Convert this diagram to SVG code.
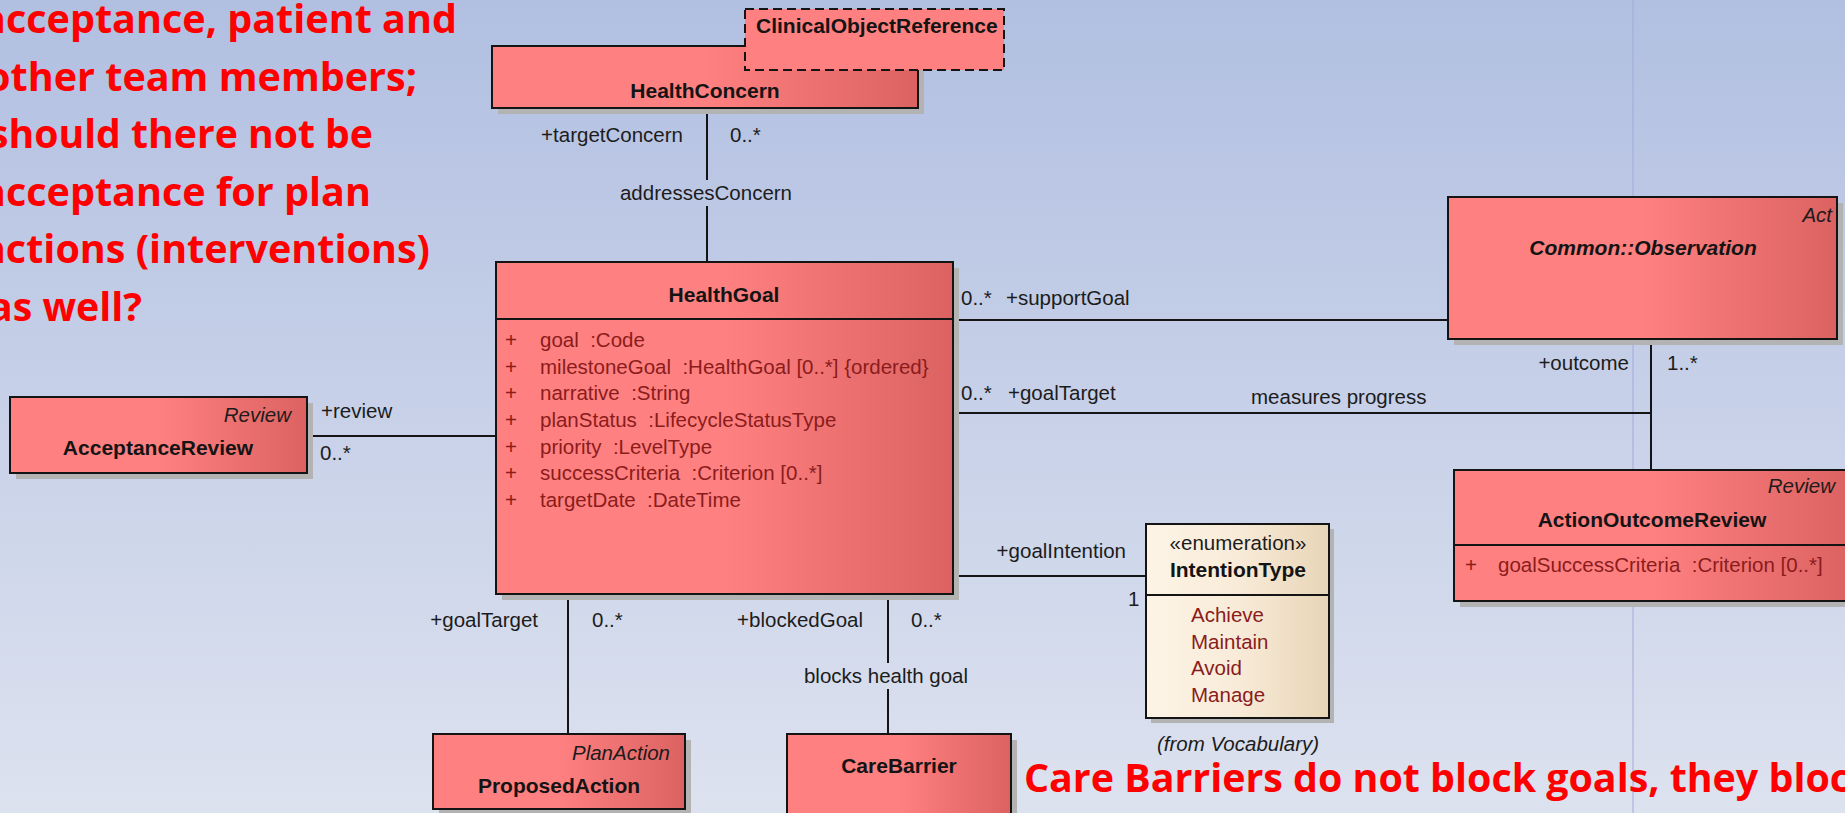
<svg xmlns="http://www.w3.org/2000/svg" width="1845" height="813" viewBox="0 0 1845 813">
  <defs>
    <linearGradient id="bg" x1="0" y1="0" x2="0" y2="1">
      <stop offset="0" stop-color="#b1bfe1"/>
      <stop offset="1" stop-color="#dde2ef"/>
    </linearGradient>
    <linearGradient id="cls" x1="0" y1="0" x2="1" y2="0">
      <stop offset="0" stop-color="#ff8080"/>
      <stop offset="0.5" stop-color="#ff8080"/>
      <stop offset="1" stop-color="#dc6262"/>
    </linearGradient>
    <linearGradient id="enum" x1="0" y1="0" x2="1" y2="0">
      <stop offset="0" stop-color="#fdf4e6"/>
      <stop offset="0.5" stop-color="#f8ebd8"/>
      <stop offset="1" stop-color="#e8d5b7"/>
    </linearGradient>
  </defs>
  <style>
    .box{fill:url(#cls);stroke:#141414;stroke-width:2}
    .ebox{fill:url(#enum);stroke:#141414;stroke-width:2}
    .ref{fill:#ff8080;stroke:#141414;stroke-width:2;stroke-dasharray:9 5}
    .shadow{fill:#b3b3b3}
    .sep{stroke:#141414;stroke-width:2}
    .edge{stroke:#141414;stroke-width:2;fill:none}
    .guide{stroke:#a3a9d8;stroke-width:1}
    text{font-family:"Liberation Sans",Arial,sans-serif}
    .lbl{font-size:20.5px;fill:#1c1c1c;white-space:pre}
    .end{text-anchor:end}
    .mid{text-anchor:middle}
    .title{font-size:21px;font-weight:bold;fill:#141414;text-anchor:middle}
    .stereo{font-size:20.5px;font-style:italic;fill:#1c1c1c;text-anchor:end}
    .attr{font-size:20.5px;fill:#8a1c1c;white-space:pre}
    .note{font-family:"Open Sans","Liberation Sans",sans-serif;font-weight:700;font-size:40px;fill:#ff0000}
  </style>

  <!-- canvas -->
  <rect x="0" y="0" width="1845" height="813" fill="url(#bg)"/>
  <line class="guide" x1="1633" y1="0" x2="1633" y2="813"/>

  <!-- associations -->
  <g id="connectors">
    <path class="edge" d="M707,108 V180 M707,206 V262"/>
    <path class="edge" d="M307,436 H496"/>
    <path class="edge" d="M953,320 H1448"/>
    <path class="edge" d="M953,413 H1651 M1651,339 V470"/>
    <path class="edge" d="M953,576 H1146"/>
    <path class="edge" d="M568,594 V734"/>
    <path class="edge" d="M888,594 V663 M888,689 V734"/>

    <text class="lbl end" x="683" y="142">+targetConcern</text>
    <text class="lbl" x="730" y="142">0..*</text>
    <text class="lbl mid" x="706" y="200">addressesConcern</text>

    <text class="lbl" x="321" y="418">+review</text>
    <text class="lbl" x="320" y="460">0..*</text>

    <text class="lbl" x="961" y="305">0..*</text>
    <text class="lbl" x="1006" y="305">+supportGoal</text>
    <text class="lbl" x="961" y="400">0..*</text>
    <text class="lbl" x="1008" y="400">+goalTarget</text>
    <text class="lbl" x="1251" y="404">measures progress</text>
    <text class="lbl end" x="1629" y="370">+outcome</text>
    <text class="lbl" x="1667" y="370">1..*</text>

    <text class="lbl end" x="1126" y="558">+goalIntention</text>
    <text class="lbl" x="1128" y="606">1</text>

    <text class="lbl end" x="538" y="627">+goalTarget</text>
    <text class="lbl" x="592" y="627">0..*</text>
    <text class="lbl end" x="863" y="627">+blockedGoal</text>
    <text class="lbl" x="911" y="627">0..*</text>
    <text class="lbl mid" x="886" y="683">blocks health goal</text>
  </g>

  <g id="HealthConcern">
    <rect class="shadow" x="498" y="52" width="426" height="62"/>
    <rect class="box" x="492" y="46" width="426" height="62"/>
    <text class="title" x="705" y="98">HealthConcern</text>
  </g>

  <g id="ClinicalObjectReference">
    <rect class="ref" x="745" y="9" width="259" height="61"/>
    <text x="756" y="33" style="font-size:21px;font-weight:bold;fill:#141414">ClinicalObjectReference</text>
  </g>

  <g id="HealthGoal">
    <rect class="shadow" x="502" y="268" width="457" height="332"/>
    <rect class="box" x="496" y="262" width="457" height="332"/>
    <line class="sep" x1="496" y1="319" x2="953" y2="319"/>
    <text class="title" x="724" y="302">HealthGoal</text>
    <text class="attr" x="505" y="347">+</text>
    <text class="attr" x="540" y="347">goal  :Code</text>
    <text class="attr" x="505" y="374">+</text>
    <text class="attr" x="540" y="374">milestoneGoal  :HealthGoal [0..*] {ordered}</text>
    <text class="attr" x="505" y="400">+</text>
    <text class="attr" x="540" y="400">narrative  :String</text>
    <text class="attr" x="505" y="427">+</text>
    <text class="attr" x="540" y="427">planStatus  :LifecycleStatusType</text>
    <text class="attr" x="505" y="454">+</text>
    <text class="attr" x="540" y="454">priority  :LevelType</text>
    <text class="attr" x="505" y="480">+</text>
    <text class="attr" x="540" y="480">successCriteria  :Criterion [0..*]</text>
    <text class="attr" x="505" y="507">+</text>
    <text class="attr" x="540" y="507">targetDate  :DateTime</text>
  </g>

  <g id="AcceptanceReview">
    <rect class="shadow" x="16" y="403" width="297" height="76"/>
    <rect class="box" x="10" y="397" width="297" height="76"/>
    <text class="stereo" x="291" y="422">Review</text>
    <text class="title" x="158" y="455">AcceptanceReview</text>
  </g>

  <g id="Observation">
    <rect class="shadow" x="1454" y="203" width="389" height="142"/>
    <rect class="box" x="1448" y="197" width="389" height="142"/>
    <text class="stereo" x="1832" y="222">Act</text>
    <text class="title" x="1643" y="255" style="font-style:italic">Common::Observation</text>
  </g>

  <g id="ActionOutcomeReview">
    <rect class="shadow" x="1460" y="476" width="396" height="131"/>
    <rect class="box" x="1454" y="470" width="396" height="131"/>
    <line class="sep" x1="1454" y1="545" x2="1850" y2="545"/>
    <text class="stereo" x="1835" y="493">Review</text>
    <text class="title" x="1652" y="527">ActionOutcomeReview</text>
    <text class="attr" x="1465" y="572">+</text>
    <text class="attr" x="1498" y="572">goalSuccessCriteria  :Criterion [0..*]</text>
  </g>

  <g id="IntentionType">
    <rect class="shadow" x="1151" y="529" width="183" height="194"/>
    <rect class="ebox" x="1146" y="524" width="183" height="194"/>
    <line class="sep" x1="1146" y1="595" x2="1329" y2="595"/>
    <text class="lbl mid" x="1238" y="550">«enumeration»</text>
    <text class="title" x="1238" y="577">IntentionType</text>
    <text class="attr" x="1191" y="622">Achieve</text>
    <text class="attr" x="1191" y="649">Maintain</text>
    <text class="attr" x="1191" y="675">Avoid</text>
    <text class="attr" x="1191" y="702">Manage</text>
    <text class="lbl mid" x="1238" y="751" style="font-style:italic">(from Vocabulary)</text>
  </g>

  <g id="ProposedAction">
    <rect class="shadow" x="439" y="740" width="252" height="75"/>
    <rect class="box" x="433" y="734" width="252" height="75"/>
    <text class="stereo" x="670" y="760">PlanAction</text>
    <text class="title" x="559" y="793">ProposedAction</text>
  </g>

  <g id="CareBarrier">
    <rect class="shadow" x="793" y="740" width="224" height="90"/>
    <rect class="box" x="787" y="734" width="224" height="90"/>
    <text class="title" x="899" y="773">CareBarrier</text>
  </g>

  <!-- review remarks -->
  <g id="remarks">
    <text class="note" x="-18" y="33" textLength="475" lengthAdjust="spacingAndGlyphs">acceptance, patient and</text>
    <text class="note" x="-14" y="91" textLength="431" lengthAdjust="spacingAndGlyphs">other team members;</text>
    <text class="note" x="-11" y="148" textLength="384" lengthAdjust="spacingAndGlyphs">should there not be</text>
    <text class="note" x="-18" y="206" textLength="389" lengthAdjust="spacingAndGlyphs">acceptance for plan</text>
    <text class="note" x="-18" y="263" textLength="448" lengthAdjust="spacingAndGlyphs">actions (interventions)</text>
    <text class="note" x="-11" y="321" textLength="153" lengthAdjust="spacingAndGlyphs">as well?</text>
    <text class="note" x="1024" y="792" textLength="826" lengthAdjust="spacingAndGlyphs">Care Barriers do not block goals, they bloc</text>
  </g>
</svg>
